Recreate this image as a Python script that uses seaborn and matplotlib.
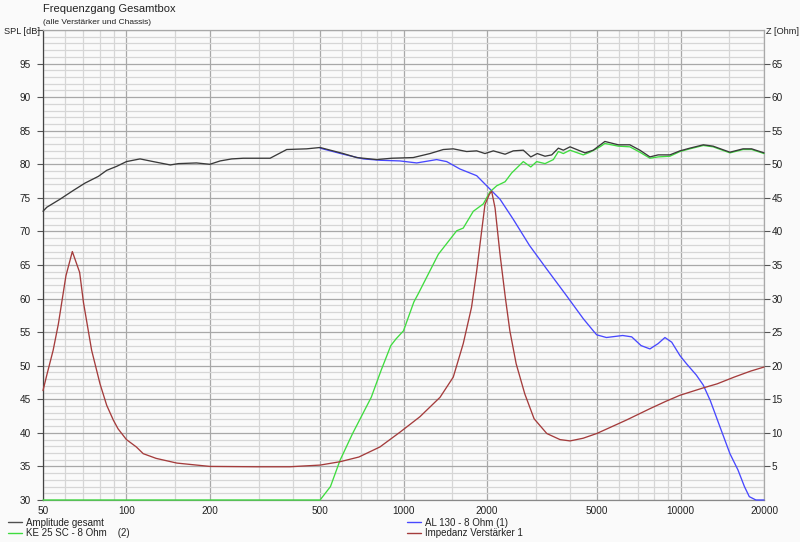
import numpy as np
import pandas as pd
import matplotlib
matplotlib.use("Agg")
import matplotlib.pyplot as plt
from matplotlib.ticker import FixedLocator, NullFormatter, FixedFormatter
from matplotlib.lines import Line2D
import seaborn as sns

# ---------------- data ----------------
total_f = [50, 51.6, 57.6, 64.3, 70.9, 79.2, 84.9, 92.3, 100, 112, 125, 144, 154, 179, 200, 218, 240, 264,
           330, 379, 447, 500, 606, 678, 800, 906, 1084, 1247, 1392, 1512, 1690, 1837, 1968, 2110, 2326,
           2490, 2706, 2880, 3040, 3242, 3427, 3622, 3775, 3990, 4217, 4520, 4840, 5330, 5960, 6560,
           7130, 7750, 8300, 9150, 9950, 10800, 12080, 13100, 15070, 16800, 18050, 20000]
total_spl = [73.0, 73.6, 74.8, 76.1, 77.2, 78.2, 79.1, 79.7, 80.4, 80.8, 80.4, 79.9, 80.1, 80.2, 80.0, 80.5,
             80.8, 80.9, 80.9, 82.2, 82.3, 82.5, 81.6, 81.0, 80.7, 80.9, 81.0, 81.6, 82.2, 82.3, 81.9, 82.0,
             81.6, 82.0, 81.5, 82.0, 82.1, 81.1, 81.6, 81.2, 81.4, 82.4, 82.1, 82.6, 82.2, 81.7, 82.1,
             83.4, 82.9, 82.9, 82.1, 81.1, 81.4, 81.4, 82.0, 82.4, 82.9, 82.7, 81.8, 82.3, 82.3, 81.7]

ke25_f = [50, 500, 545, 590, 655, 765, 830, 900, 940, 1000, 1090, 1130, 1336, 1556, 1643, 1786, 1941,
          2052, 2170, 2326, 2456, 2706, 2880, 3024, 3242, 3474, 3622, 3775, 3990, 4455, 4710, 5117,
          5330, 5960, 6560, 7130, 7750, 8300, 9150, 9950, 10800, 12080, 13100, 15070, 16800, 18050, 20000]
ke25_spl = [30.0, 30.0, 32.0, 35.9, 39.9, 45.3, 49.3, 53.0, 54.0, 55.2, 59.5, 60.7, 66.6, 70.1, 70.5, 73.0,
            74.1, 75.9, 76.8, 77.4, 78.7, 80.4, 79.6, 80.4, 80.1, 80.7, 81.9, 81.6, 82.1, 81.4, 81.8, 82.6,
            83.1, 82.7, 82.6, 81.8, 80.9, 81.1, 81.2, 81.9, 82.3, 82.8, 82.6, 81.7, 82.2, 82.2, 81.6]

al130_f = [500, 606, 716, 822, 971, 1116, 1317, 1432, 1598, 1837, 1996, 2230, 2490, 2850,
           3287, 3880, 4455, 4840, 4980, 5400, 6180, 6660, 7200, 7750, 8300, 8780, 9290, 9950, 10500,
           11400, 12080, 12800, 13870, 15070, 16100, 17000, 17700, 18700, 20000]
al130_spl = [82.4, 81.5, 80.8, 80.6, 80.5, 80.2, 80.7, 80.4, 79.3, 78.3,
             76.8, 74.8, 71.8, 67.9, 64.4, 60.4, 57.0, 55.2, 54.6, 54.2, 54.5, 54.3, 53.0, 52.5, 53.3,
             54.2, 53.5, 51.5, 50.3, 48.6, 47.1, 44.8, 40.9, 36.9, 34.5, 32.0, 30.5, 30.0, 30.0]

imp_f = [50, 51.6, 54.4, 56.8, 60.5, 63.8, 67.8, 70.0, 74.9, 80.3, 84.9, 89.7, 93.3, 100, 108.6, 115, 128,
         152, 200, 295, 389, 500, 590, 690, 822, 971, 1146, 1355, 1512, 1643, 1760, 1837, 1915, 1968,
         2040, 2080, 2140, 2230, 2330, 2420, 2550, 2740, 2960, 3290, 3670, 3990, 4450, 4980, 6370,
         7750, 8850, 9950, 12080, 13550, 15600, 17900, 20000]
imp_z = [16.3, 18.6, 22.3, 26.2, 33.4, 37.0, 33.9, 29.4, 22.3, 17.3, 14.1, 11.9, 10.6, 9.0, 7.9, 6.9, 6.2,
         5.5, 5.0, 4.95, 4.95, 5.2, 5.7, 6.4, 7.9, 10.1, 12.4, 15.3, 18.3, 23.3, 28.7, 34.1, 40.1, 44.0,
         45.5, 46.0, 43.5, 36.6, 30.2, 25.2, 20.3, 15.8, 12.1, 9.9, 9.0, 8.8, 9.2, 9.9, 11.9,
         13.6, 14.7, 15.6, 16.7, 17.3, 18.3, 19.2, 19.8]

labels = ["Amplitude gesamt", "KE 25 SC - 8 Ohm    (2)", "AL 130 - 8 Ohm (1)", "Impedanz Verstärker 1"]
x_major = [50, 100, 200, 500, 1000, 2000, 5000, 10000, 20000]
x_minor = [60, 70, 80, 90, 150, 300, 400, 600, 700, 800, 900, 1500, 3000, 4000,
           6000, 7000, 8000, 9000, 15000]
spl_ticks = [30, 35, 40, 45, 50, 55, 60, 65, 70, 75, 80, 85, 90, 95]
z_ticks = [5, 10, 15, 20, 25, 30, 35, 40, 45, 50, 55, 60, 65]

# ---------------- style ----------------
sns.set_theme(style="white")
plt.rcParams["font.family"] = ["Liberation Sans", "DejaVu Sans"]

c_total = "#3a3a3a"
c_green = "#3fdc3f"
c_blue = "#4848ff"
c_red = "#a43c3c"
bg = "#fafafa"

fig = plt.figure(figsize=(8.0, 5.42), dpi=100, facecolor=bg)
ax = fig.add_axes([43/800, 1-500/542, (764-43)/800, (500-30)/542])
ax.set_facecolor(bg)
ax2 = ax.twinx()

lw = 0.95
sns.lineplot(x=al130_f, y=al130_spl, ax=ax, color=c_blue, linewidth=lw, estimator=None, sort=False)
sns.lineplot(x=ke25_f, y=ke25_spl, ax=ax, color=c_green, linewidth=lw, estimator=None, sort=False)
sns.lineplot(x=total_f, y=total_spl, ax=ax, color=c_total, linewidth=lw, estimator=None, sort=False)
sns.lineplot(x=imp_f, y=imp_z, ax=ax2, color=c_red, linewidth=lw, estimator=None, sort=False)
for a in (ax, ax2):
    for ln in a.get_lines():
        ln.set_clip_on(False)
        ln.set_zorder(5)

ax.set_xscale("log")
ax.set_xlim(50, 20000)
ax.set_ylim(30, 100)
ax2.set_ylim(0, 70)

ax.xaxis.set_major_locator(FixedLocator(x_major))
ax.xaxis.set_major_formatter(FixedFormatter([str(v) for v in x_major]))
ax.xaxis.set_minor_locator(FixedLocator(x_minor))
ax.xaxis.set_minor_formatter(NullFormatter())
ax.yaxis.set_major_locator(FixedLocator(spl_ticks + [100]))
ax.yaxis.set_major_formatter(FixedFormatter([str(v) for v in spl_ticks] + [""]))
ax.yaxis.set_minor_locator(FixedLocator(list(range(31, 100))))
ax.yaxis.set_minor_formatter(NullFormatter())
ax2.yaxis.set_major_locator(FixedLocator(z_ticks))
ax2.yaxis.set_major_formatter(FixedFormatter([str(v) for v in z_ticks]))
ax2.yaxis.set_minor_locator(FixedLocator([]))

ax.grid(True, which="major", color="#a8a8a8", linewidth=0.9)
ax.grid(True, which="minor", color="#d6d6d6", linewidth=0.9)
ax.set_axisbelow(True)
ax2.grid(False)
ax.set_xlabel("")
ax.set_ylabel("")
ax2.set_ylabel("")

ax.tick_params(axis="x", which="both", length=0, pad=4, labelsize=7.2, colors="#222222")
ax.tick_params(axis="y", which="major", left=True, length=4, width=0.8, color="#555555",
               pad=5, labelsize=7.2, labelcolor="#222222")
ax.tick_params(axis="y", which="minor", length=0)
ax2.tick_params(axis="y", which="major", right=True, length=4, width=0.8, color="#555555",
                pad=1.5, labelsize=7.2, labelcolor="#222222")

for s in ax.spines.values():
    s.set_color("#a8a8a8")
    s.set_linewidth(0.9)
    s.set_zorder(1)
ax.spines["left"].set_color("#444444")
ax.spines["bottom"].set_color("#888888")
for s in ax2.spines.values():
    s.set_visible(False)

# ---------------- texts ----------------
fig.text(43/800, 1-12.5/542, "Frequenzgang Gesamtbox", fontsize=8, color="#222222", va="baseline", ha="left")
fig.text(43/800, 1-23.5/542, "(alle Verstärker und Chassis)", fontsize=6, color="#222222", va="baseline", ha="left")
fig.text(40/800, 1-34.5/542, "SPL [dB]", fontsize=6.6, color="#222222", va="baseline", ha="right")
fig.text(766/800, 1-34.5/542, "Z [Ohm]", fontsize=6.6, color="#222222", va="baseline", ha="left")

# ---------------- legend ----------------
h_total = Line2D([], [], color="#505050", linewidth=1.0)
h_green = Line2D([], [], color=c_green, linewidth=1.0)
h_blue = Line2D([], [], color=c_blue, linewidth=1.0)
h_red = Line2D([], [], color=c_red, linewidth=1.0)
leg_kw = dict(loc="upper left", frameon=False, fontsize=7, handlelength=1.45, handletextpad=0.4,
              labelspacing=0.08, borderpad=0, borderaxespad=0, labelcolor="#222222")
fig.legend([h_total, h_green], labels[:2], bbox_to_anchor=(8/800, 1-517.5/542), **leg_kw)
fig.legend([h_blue, h_red], labels[2:], bbox_to_anchor=(407/800, 1-517.5/542), **leg_kw)

fig.savefig("out.png", dpi=100, facecolor=bg)
